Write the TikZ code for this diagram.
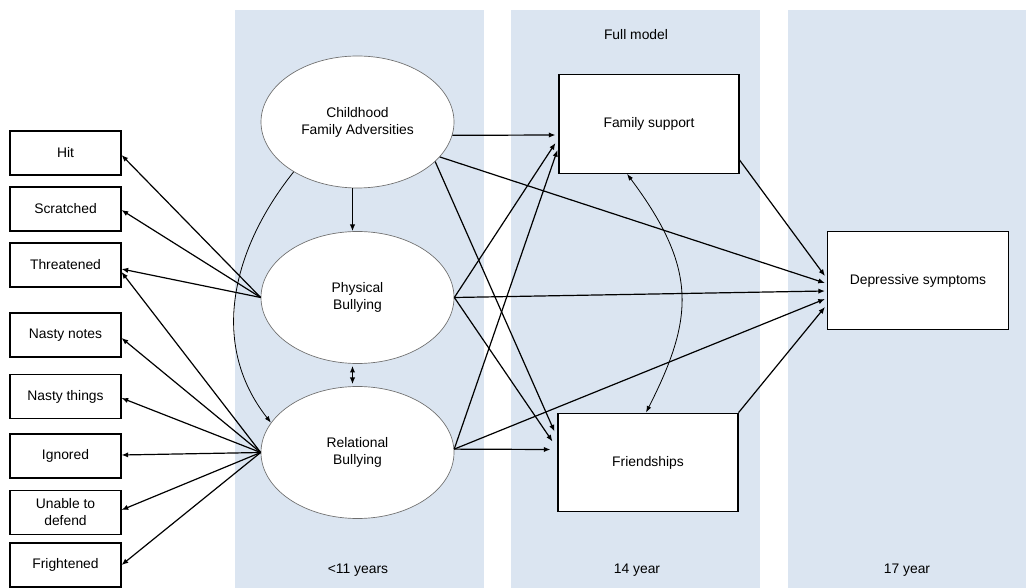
\documentclass[tikz,border=0pt]{standalone}
\usepackage{fontspec}
\setmainfont{Liberation Sans}
\usetikzlibrary{shapes.geometric,arrows.meta,calc}
\definecolor{colbg}{RGB}{219,229,241}
\definecolor{ellborder}{RGB}{110,110,110}
\begin{document}
\begin{tikzpicture}[x=0.75pt,y=-0.75pt,
  every node/.style={font=\fontsize{10.4}{12.75}\selectfont, text=black, align=center},
  indbox/.style={draw=black, line width=0.8pt, fill=white, minimum width=83.25pt, minimum height=33pt, inner sep=0pt},
  bigbox/.style={draw=black, line width=0.8pt, fill=white, minimum width=135pt, minimum height=74pt, inner sep=0pt},
  latent/.style={ellipse, draw=ellborder, line width=0.5pt, fill=white, minimum width=144.75pt, minimum height=99pt, inner sep=0pt},
  arr/.style={-{Latex[length=5pt,width=4pt]}, line width=0.9pt, black},
  darr/.style={{Latex[length=5pt,width=4pt]}-{Latex[length=5pt,width=4pt]}, line width=0.9pt, black},
  carr/.style={-{Latex[length=5pt,width=3.5pt]}, line width=0.6pt, black},
  cdarr/.style={{Latex[length=5pt,width=3.5pt]}-{Latex[length=5pt,width=3.5pt]}, line width=0.6pt, black},
  lab/.style={inner sep=0pt}
]
\useasboundingbox (0,0) rectangle (1026,588);
% background columns
\fill[colbg] (235,10) rectangle (484,588);
\fill[colbg] (511,10) rectangle (760,588);
\fill[colbg] (788,10) rectangle (1026,588);

% column labels
\node[lab] (fullmodel) at (636,35) {Full model};
\node[lab] (t11) at (358,570) {<11 years};
\node[lab] (t14) at (637,570) {14 year};
\node[lab] (t17) at (907,570) {17 year};

% indicator boxes
\node[indbox] (hit) at (65.5,153) {Hit};
\node[indbox] (scr) at (65.5,209) {Scratched};
\node[indbox] (thr) at (65.5,265) {Threatened};
\node[indbox] (nno) at (65.5,335) {Nasty notes};
\node[indbox] (nth) at (65.5,396.5) {Nasty things};
\node[indbox] (ign) at (65.5,456) {Ignored};
\node[indbox] (una) at (65.5,512.5) {Unable to\\defend};
\node[indbox] (fri) at (65.5,565) {Frightened};

% latent ellipses
\node[latent] (cfa) at (357.5,122) {Childhood\\Family Adversities};
\node[latent] (phys) at (357.5,297.5) {Physical\\Bullying};
\node[latent] (rel) at (357.5,452.5) {Relational\\Bullying};

% outcome boxes
\node[bigbox] (fam) at (649,124) {Family support};
\node[bigbox] (frs) at (648,462.5) {Friendships};
\node[bigbox, minimum width=135.75pt] (dep) at (918,280.5) {Depressive symptoms};

% measurement arrows: physical
\draw[arr] (phys.west) -- ($(hit.east)+(0,2)$);
\draw[arr] (phys.west) -- ($(scr.east)+(0,1)$);
\draw[arr] (phys.west) -- ($(thr.east)+(0,4)$);
% measurement arrows: relational
\draw[arr] (rel.west) -- ($(thr.east)+(0,7)$);
\draw[arr] (rel.west) -- ($(nno.east)+(0,3)$);
\draw[arr] (rel.west) -- ($(nth.east)+(0,1.5)$);
\draw[arr] (rel.west) -- ($(ign.east)+(0,-1)$);
\draw[arr] (rel.west) -- ($(una.east)+(0,-2.5)$);
\draw[arr] (rel.west) -- (fri.east);

% structural paths among latent
\draw[arr] ($(cfa.south)+(-5,0)$) -- ($(phys.north)+(-5,0)$);
\draw[darr] ($(phys.south)+(-5,2)$) -- ($(rel.north)+(-5,-2)$);
\draw[carr] (cfa.218) .. controls (232,249) and (209,344) .. (rel.161);

% childhood paths
\draw[arr] (cfa.-8) -- ($(fam.west)+(-3,11)$);
\draw[arr] (cfa.-23) -- ($(dep.west)+(-2,2.5)$);
\draw[arr] (cfa.-27) -- ($(frs.west)+(-3,-31)$);

% physical paths
\draw[arr] (phys.east) -- ($(fam.west)+(-3,19)$);
\draw[arr] (phys.east) -- ($(dep.west)+(-2,10.5)$);
\draw[arr] (phys.east) -- ($(frs.west)+(-5,-21)$);

% relational paths
\draw[arr] (rel.2) -- ($(fam.west)+(-1,26)$);
\draw[arr] (rel.2) -- ($(dep.west)+(-2,18.5)$);
\draw[arr] (rel.2) -- ($(frs.west)+(-7,-13)$);

% mediators to outcome
\draw[arr] ($(fam.east)+(0,36)$) -- ($(dep.west)+(-2,-4.5)$);
\draw[arr] (frs.north east) -- ($(dep.west)+(-2,26.5)$);

% covariance between mediators
\draw[cdarr] ($(fam.south)+(-22,0)$) .. controls (698,269) and (694,318) .. ($(frs.north)+(-2,0)$);
\end{tikzpicture}
\end{document}
